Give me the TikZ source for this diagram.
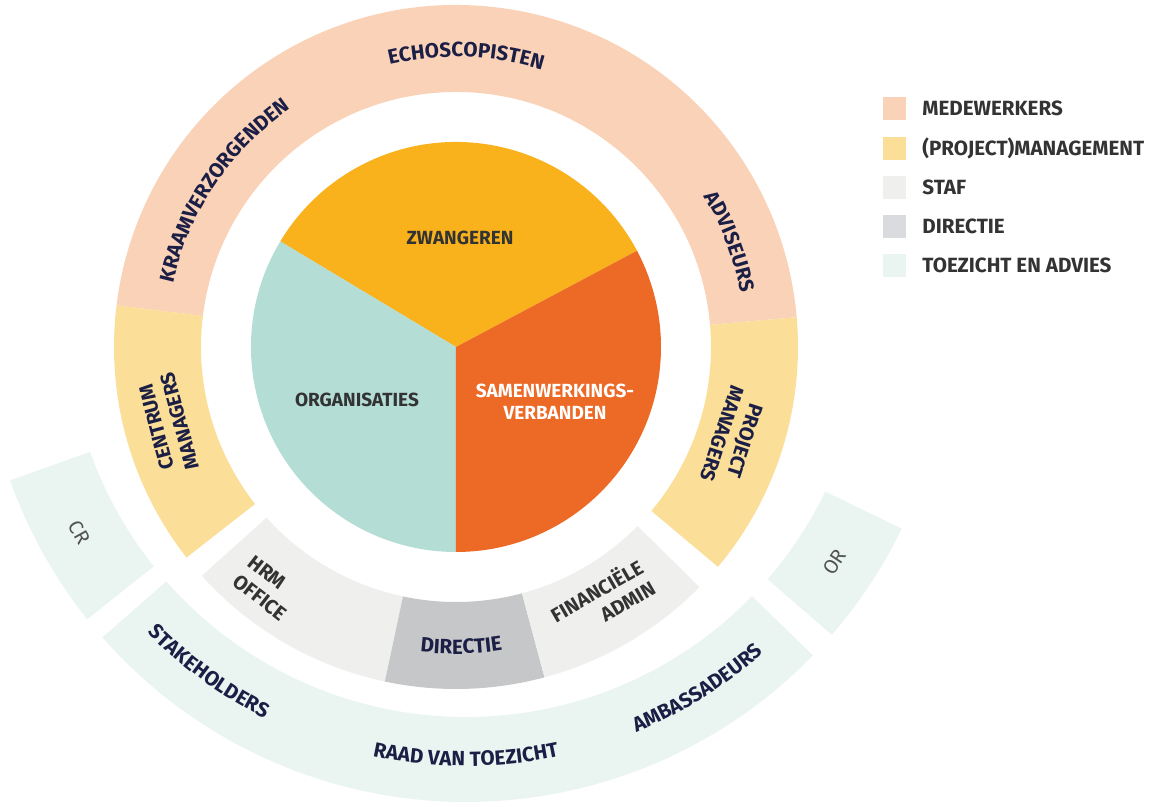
\documentclass[tikz,border=0pt]{standalone}
\usepackage{fontspec}
\setmainfont{Fira Sans}
\usetikzlibrary{decorations.text}
\definecolor{peach}{HTML}{F9D2B8}
\definecolor{mgmt}{HTML}{FBDE98}
\definecolor{staf}{HTML}{EFEFEE}
\definecolor{dirgray}{HTML}{C6C7C9}
\definecolor{dirkey}{HTML}{D9DBDE}
\definecolor{toezicht}{HTML}{EAF5F2}
\definecolor{zwanger}{HTML}{F9B11C}
\definecolor{organis}{HTML}{B3DDD5}
\definecolor{samenw}{HTML}{EC6926}
\definecolor{navy}{HTML}{1C1F45}
\definecolor{darktext}{HTML}{333333}
\newcommand\ringfont{\bfseries\fontsize{10.3}{12}\selectfont}
\tikzset{
  seglabel/.style={font=\bfseries\fontsize{10}{12}\selectfont, text=navy, inner sep=0pt},
  stafname/.style={font=\bfseries\fontsize{10}{12}\selectfont, text=darktext, inner sep=0pt},
  smallname/.style={font=\fontsize{10}{11}\selectfont, text=darktext!85, inner sep=0pt},
  pielabel/.style={font=\bfseries\fontsize{9.5}{11}\selectfont, text=darktext, align=center, inner sep=0pt},
  legkey/.style={minimum size=11.5pt, inner sep=0pt},
  legtext/.style={anchor=base west, font=\bfseries\fontsize{10.3}{12}\selectfont, text=darktext, inner sep=0pt},
  arctext/.style={decorate, decoration={text along path, text align=center, text color=navy, text={|\ringfont|#1}}}
}
\begin{document}
\begin{tikzpicture}[x=0.5pt, y=0.5pt]
\useasboundingbox (-456,-460) rectangle (697,347);

% toezicht en advies (ring with its own centre)
\begin{scope}[shift={(10,29)}]
\fill[toezicht] (199.6:399) arc[start angle=199.6, end angle=218.5, radius=399] -- (218.5:484) arc[start angle=218.5, end angle=199.6, radius=484] -- cycle;
\fill[toezicht] (221.3:399) arc[start angle=221.3, end angle=315.8, radius=399] -- (315.8:484) arc[start angle=315.8, end angle=221.3, radius=484] -- cycle;
\fill[toezicht] (319.1:399) arc[start angle=319.1, end angle=334.2, radius=399] -- (334.2:484) arc[start angle=334.2, end angle=319.1, radius=484] -- cycle;
\node[smallname, rotate=-61] (cr) at (209:442) {CR};
\node[smallname, rotate=56.5] (or) at (326.5:442) {OR};
\path[arctext={STAKEHOLDERS}] (214:448) arc[start angle=214, end angle=254, radius=448];
\path[arctext={RAAD VAN TOEZICHT}] (245:448) arc[start angle=245, end angle=295, radius=448];
\path[arctext={AMBASSADEURS}] (282:448) arc[start angle=282, end angle=322, radius=448];
\end{scope}

% medewerkers en management
\fill[peach] (5:255) arc[start angle=5, end angle=173, radius=255] -- (173:342) arc[start angle=173, end angle=5, radius=342] -- cycle;
\fill[mgmt] (173:255) arc[start angle=173, end angle=218, radius=255] -- (218:342) arc[start angle=218, end angle=173, radius=342] -- cycle;
\fill[mgmt] (-40:255) arc[start angle=-40, end angle=5, radius=255] -- (5:342) arc[start angle=5, end angle=-40, radius=342] -- cycle;

% staf en directie
\fill[staf] (222:255) arc[start angle=222, end angle=258, radius=255] -- (258:342) arc[start angle=258, end angle=222, radius=342] -- cycle;
\fill[dirgray] (258:255) arc[start angle=258, end angle=285, radius=255] -- (285:342) arc[start angle=285, end angle=258, radius=342] -- cycle;
\fill[staf] (285:255) arc[start angle=285, end angle=315.4, radius=255] -- (315.4:342) arc[start angle=315.4, end angle=285, radius=342] -- cycle;

% pie
\fill[zwanger] (0,0) -- (28:205) arc[start angle=28, end angle=149, radius=205] -- cycle;
\fill[organis] (0,0) -- (149:205) arc[start angle=149, end angle=270, radius=205] -- cycle;
\fill[samenw] (0,0) -- (270:205) arc[start angle=270, end angle=388, radius=205] -- cycle;

\node[pielabel] (zwangeren) at (4,109) {ZWANGEREN};
\node[pielabel] (organisaties) at (-99,-53) {ORGANISATIES};
\node[pielabel, text=white] (samenwerking) at (99,-55) {SAMENWERKINGS-\\VERBANDEN};

% ring labels
\path[arctext={ECHOSCOPISTEN}] (113:290) arc[start angle=113, end angle=63, radius=290];
\path[arctext={KRAAMVERZORGENDEN}] (176:290) arc[start angle=176, end angle=116, radius=290];
\path[arctext={ADVISEURS}] (46:290) arc[start angle=46, end angle=-4, radius=290];
\path[arctext={DIRECTIE}] (248:307) arc[start angle=248, end angle=294, radius=307];
\node[seglabel, align=center, rotate=105] (centrum) at (195:298) {CENTRUM\\MANAGERS};
\node[seglabel, align=center, rotate=-108] (project) at (-18:292) {PROJECT\\MANAGERS};
\node[stafname, align=left, rotate=-38] (hrm) at (232:306) {HRM\\OFFICE};
\node[stafname, align=right, rotate=30] (fin) at (300:292) {FINANCIËLE\\ADMIN};

% legend
\node[legkey, fill=peach] (key1) at (438.5,238) {};
\node[legkey, fill=mgmt] (key2) at (438.5,198.5) {};
\node[legkey, fill=staf] (key3) at (438.5,159) {};
\node[legkey, fill=dirkey] (key4) at (438.5,120) {};
\node[legkey, fill=toezicht] (key5) at (438.5,81) {};
\node[legtext] (leg1) at (466,231) {MEDEWERKERS};
\node[legtext] (leg2) at (466,191.5) {(PROJECT)MANAGEMENT};
\node[legtext] (leg3) at (466,152) {STAF};
\node[legtext] (leg4) at (466,113) {DIRECTIE};
\node[legtext] (leg5) at (466,74) {TOEZICHT EN ADVIES};
\end{tikzpicture}
\end{document}
